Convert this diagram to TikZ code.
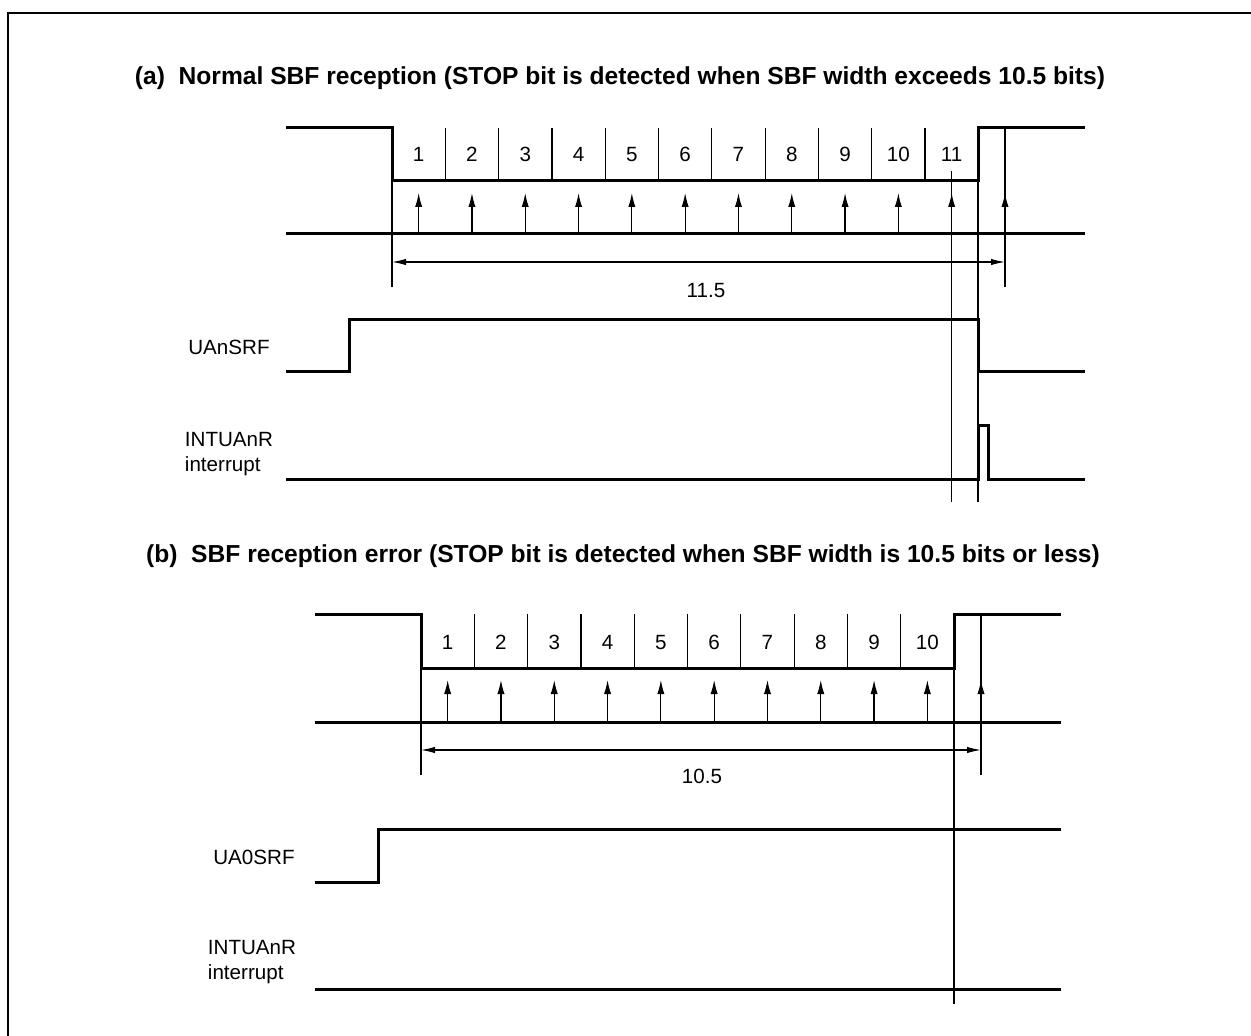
\documentclass[tikz,border=0pt]{standalone}
\usepackage{fontspec}
\setmainfont{Liberation Sans}
\usetikzlibrary{arrows.meta}
\tikzset{
  sig/.style={line width=1.5pt, line join=miter},
  guide/.style={line width=0.6pt},
  samp/.style={-{Latex[length=7pt,width=3.6pt]}, line width=0.6pt},
  dimline/.style={{Latex[length=7pt,width=3.2pt]}-{Latex[length=7pt,width=3.2pt]}, line width=0.6pt},
  ttl/.style={font=\bfseries\fontsize{12.3}{14}\selectfont, inner sep=0pt},
  lab/.style={font=\fontsize{10.3}{12.4}\selectfont, align=left, inner sep=0pt},
  num/.style={font=\fontsize{10.3}{12}\selectfont, inner sep=0pt, anchor=base},
}
\def\bw{53.3}
\begin{document}
\begin{tikzpicture}[x=0.5pt,y=-0.5pt]
  \useasboundingbox (0,0) rectangle (1251,1036);
  \draw[line width=1.4pt] (8,1045) -- (8,13) -- (1260,13);

  % (a) normal reception
  \node[ttl] (ta) at (620,78) {(a)\ \ Normal SBF reception (STOP bit is detected when SBF width exceeds 10.5 bits)};
  \draw[sig] (286,128) -- (392,128) -- (392,181) -- (978,181) -- (978,128) -- (1085,128);
  \draw[sig] (286,234) -- (1085,234);
  \foreach \k in {1,...,10} \draw[guide] ({392+\k*\bw},128) -- ++(0,53);
  \foreach \k in {1,...,11} \node[num] (a\k) at ({392+(\k-0.5)*\bw},162) {\k};
  \foreach \k in {1,...,11} \draw[samp] ({392+(\k-0.5)*\bw},234) -- ++(0,-41);
  \draw[samp] (1005,234) -- (1005,193);
  \coordinate (aL) at (392,262);
  \coordinate (aR) at (1005,262);
  \draw[guide] (392,181) -- (392,287);
  \draw[guide] (1005,128) -- (1005,287);
  \draw[guide] (951.7,171) -- (951.7,502);
  \draw[guide] (978,128) -- (978,502);
  \draw[dimline] (aL) -- (aR);
  \node[num] (wa) at (706,298) {11.5};

  \node[lab] (srfa) at (229,347) {UAnSRF};
  \draw[sig] (286,372) -- (349,372) -- (349,320) -- (978,320) -- (978,372) -- (1085,372);
  \node[lab] (inta) at (229,454) {INTUAnR\\interrupt};
  \draw[sig] (286,480) -- (978,480) -- (978,426) -- (988,426) -- (988,480) -- (1085,480);

  % (b) reception error
  \node[ttl] (tb) at (623,556) {(b)\ \ SBF reception error (STOP bit is detected when SBF width is 10.5 bits or less)};
  \draw[sig] (315,614) -- (421,614) -- (421,668) -- (954,668) -- (954,614) -- (1061,614);
  \draw[sig] (315,722) -- (1061,722);
  \foreach \k in {1,...,9} \draw[guide] ({421+\k*\bw},614) -- ++(0,54);
  \foreach \k in {1,...,10} \node[num] (b\k) at ({421+(\k-0.5)*\bw},649) {\k};
  \foreach \k in {1,...,10} \draw[samp] ({421+(\k-0.5)*\bw},722) -- ++(0,-42);
  \draw[samp] (981,722) -- (981,680);
  \coordinate (bL) at (421,750);
  \coordinate (bR) at (981,750);
  \draw[guide] (421,668) -- (421,775);
  \draw[guide] (981,614) -- (981,775);
  \draw[guide] (954,614) -- (954,1004);
  \draw[dimline] (bL) -- (bR);
  \node[num] (wb) at (702,783) {10.5};

  \node[lab] (srfb) at (254,857) {UA0SRF};
  \draw[sig] (315,882) -- (378,882) -- (378,829) -- (1061,829);
  \node[lab] (intb) at (252,962) {INTUAnR\\interrupt};
  \draw[sig] (315,989) -- (1061,989);
\end{tikzpicture}
\end{document}
